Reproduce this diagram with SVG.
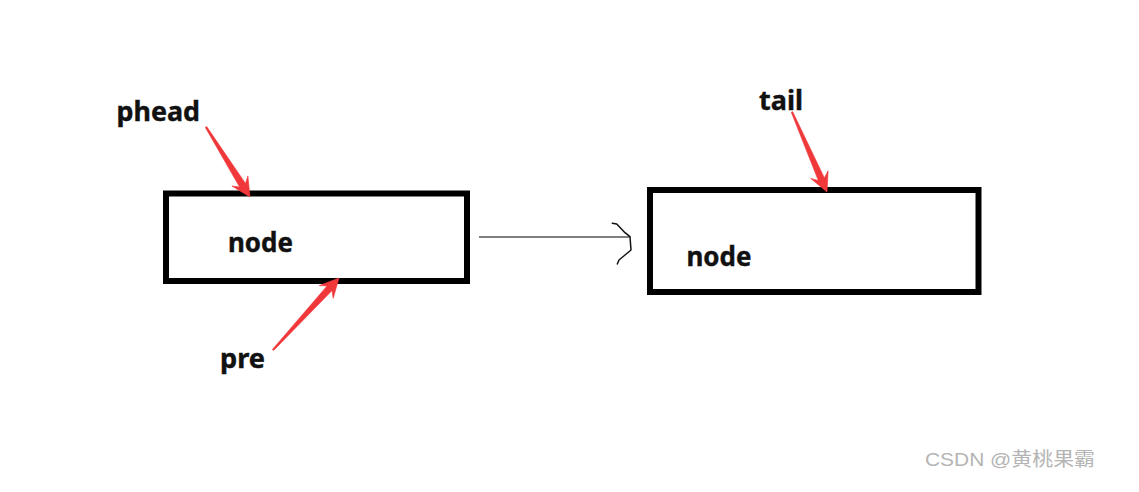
<svg xmlns="http://www.w3.org/2000/svg" width="1139" height="492" viewBox="0 0 1139 492">
  <style>
    .box { fill: #ffffff; stroke: #000000; stroke-width: 6; }
    .lbl { font-family: "Noto Sans", "Open Sans", sans-serif; font-weight: bold; font-size: 26px; fill: #111111; stroke: #111111; stroke-width: 0.4; }
    .ptr { fill: #f0373a; stroke: #f0373a; stroke-width: 0.6; stroke-linejoin: round; }
    .link { fill: none; stroke: #555555; stroke-width: 1.5; }
    .hook { fill: none; stroke: #111111; stroke-width: 1.5; stroke-linejoin: round; stroke-linecap: round; }
    .wm { font-family: "Liberation Sans", "Noto Sans CJK SC", sans-serif; font-size: 19px; fill: #b4b4b4; }
  </style>
  <rect width="1139" height="492" fill="#ffffff"/>

  <g id="node1">
    <rect class="box" x="166" y="193.5" width="301" height="87.5"/>
    <text class="lbl" x="228" y="251.5" textLength="65" lengthAdjust="spacingAndGlyphs">node</text>
  </g>

  <g id="node2">
    <rect class="box" x="650" y="190" width="328.5" height="102"/>
    <text class="lbl" x="686.5" y="266" textLength="65" lengthAdjust="spacingAndGlyphs">node</text>
  </g>

  <g id="label-phead">
    <text class="lbl" x="116.5" y="121" textLength="83.5" lengthAdjust="spacingAndGlyphs">phead</text>
  </g>
  <g id="label-pre">
    <text class="lbl" x="220" y="368" textLength="45" lengthAdjust="spacingAndGlyphs">pre</text>
  </g>
  <g id="label-tail">
    <text class="lbl" x="759" y="110" textLength="44" lengthAdjust="spacingAndGlyphs">tail</text>
  </g>

  <g id="connectors">
    <polygon class="ptr" points="205.3,127.4 239.6,187.0 231.9,186.0 250,197 247.9,175.9 245.5,183.4 206.7,126.6"/>
    <polygon class="ptr" points="273.6,350.5 332.0,290.6 333.2,298.4 339,278 319.2,285.6 327.0,286.0 272.4,349.5"/>
    <polygon class="ptr" points="791.3,112.3 818.3,180.6 810.7,178.4 827,192 828.1,170.8 824.4,177.9 792.7,111.7"/>
    <line class="link" x1="479" y1="237" x2="630" y2="237"/>
    <polyline class="hook" points="612.3,223.3 616.7,224 621.7,229.3 625,232.7 630,236.7 631,250 625,255 619,260 617.3,264"/>
  </g>

  <text class="wm" x="925" y="466" textLength="170" lengthAdjust="spacingAndGlyphs">CSDN @黄桃果霸</text>
</svg>
